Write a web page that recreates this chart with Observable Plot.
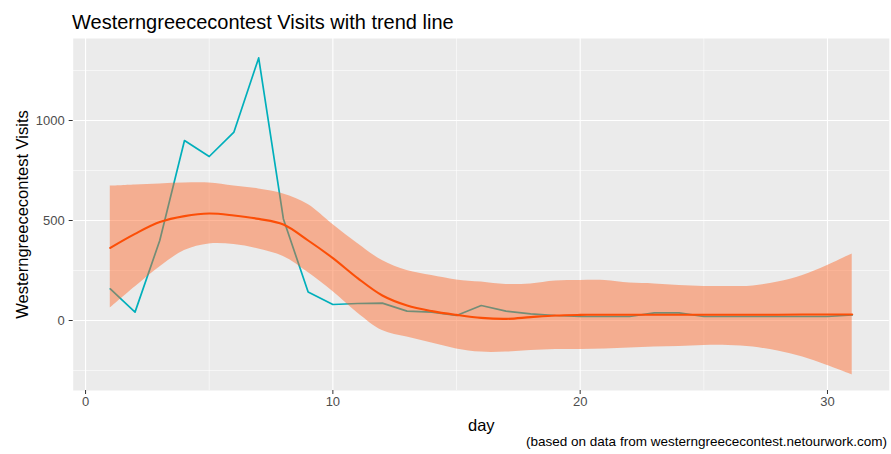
<!DOCTYPE html>
<html>
<head>
<meta charset="utf-8">
<script src="https://cdn.jsdelivr.net/npm/d3@7"></script>
<script src="https://cdn.jsdelivr.net/npm/@observablehq/plot@0.6"></script>
<style>
  body { margin: 0; background: white; font-family: "Liberation Sans", Arial, sans-serif; }
  #title { height: 38px; box-sizing: border-box; padding: 11px 0 0 72px; font-size: 20px; line-height: 22px; color: black; }
  #chart svg { display: block; }
  #caption { font-size: 13.5px; line-height: 16px; text-align: right; padding: 0 4px 0 0; color: black; }
</style>
</head>
<body>
<div id="title">Westerngreececontest Visits with trend line</div>
<div id="chart"></div>
<div id="caption">(based on data from westerngreececontest.netourwork.com)</div>
<script>
const days = [1,2,3,4,5,6,7,8,9,10,11,12,13,14,15,16,17,18,19,20,21,22,23,24,25,26,27,28,29,30,31];
const visits = [158,42,400,900,820,942,1313,508,142,80,85,87,47,42,25,75,47,33,25,20,20,20,38,38,20,20,20,20,20,20,28];
const trend = [363,433,492,522,535,525,508,480,400,312,212,125,75,47,28,13,8,17,25,28,29,29,29,29,29,29,29,29,30,30,30];
const upper = [672,678,683,687,687,672,658,633,580,480,385,300,250,225,203,192,180,183,197,200,200,187,183,175,170,170,173,192,225,275,333];
const lower = [62,167,267,350,383,380,358,320,240,145,38,-50,-83,-113,-142,-158,-158,-150,-145,-145,-142,-137,-133,-130,-125,-125,-133,-153,-183,-225,-272];
const xTicks = [0,10,20,30];
const xMinor = [5,15,25];
const yTicks = [0,500,1000];
const yMinor = [-250,250,750,1250];

const data = days.map((d, i) => ({day: d, visits: visits[i], trend: trend[i], lo: lower[i], hi: upper[i]}));

const chart = Plot.plot({
  width: 891,
  height: 396,
  marginTop: 0,
  marginLeft: 72.7,
  marginRight: 2.2,
  marginBottom: 44,
  x: {domain: [-0.5, 32.5], label: null},
  y: {domain: [-350, 1410], label: null},
  style: {fontFamily: "'Liberation Sans', Arial, sans-serif", fontSize: "13px", color: "#4D4D4D", background: "white"},
  marks: [
    Plot.frame({fill: "#EBEBEB", stroke: null}),
    Plot.gridX(xMinor, {stroke: "white", strokeOpacity: 1, strokeWidth: 0.55}),
    Plot.gridY(yMinor, {stroke: "white", strokeOpacity: 1, strokeWidth: 0.55}),
    Plot.gridX(xTicks, {stroke: "white", strokeOpacity: 1, strokeWidth: 1.1}),
    Plot.gridY(yTicks, {stroke: "white", strokeOpacity: 1, strokeWidth: 1.1}),
    Plot.lineY(data, {x: "day", y: "visits", stroke: "#00AFBB", strokeWidth: 1.7}),
    Plot.areaY(data, {x: "day", y1: "lo", y2: "hi", fill: "#FF6423", fillOpacity: 0.45, curve: "catmull-rom"}),
    Plot.lineY(data, {x: "day", y: "trend", stroke: "#FC4E07", strokeWidth: 2.1, curve: "catmull-rom"}),
    Plot.axisX(xTicks, {tickSize: 4, tickPadding: 2.5, stroke: "#333333", fill: "#4D4D4D", label: null, fontSize: 13, tickFormat: d => String(d)}),
    Plot.axisY(yTicks, {tickSize: 4, tickPadding: 4.5, stroke: "#333333", fill: "#4D4D4D", label: null, fontSize: 13, tickFormat: d => String(d)}),
    Plot.text(["day"], {frameAnchor: "bottom", dy: 35, lineAnchor: "middle", textAnchor: "middle", fontSize: 16.5, fill: "black"}),
    Plot.text(["Westerngreececontest Visits"], {frameAnchor: "left", dx: -50, rotate: -90, textAnchor: "middle", lineAnchor: "middle", fontSize: 16.5, fill: "black"})
  ]
});
document.getElementById("chart").appendChild(chart);
</script>
</body>
</html>
